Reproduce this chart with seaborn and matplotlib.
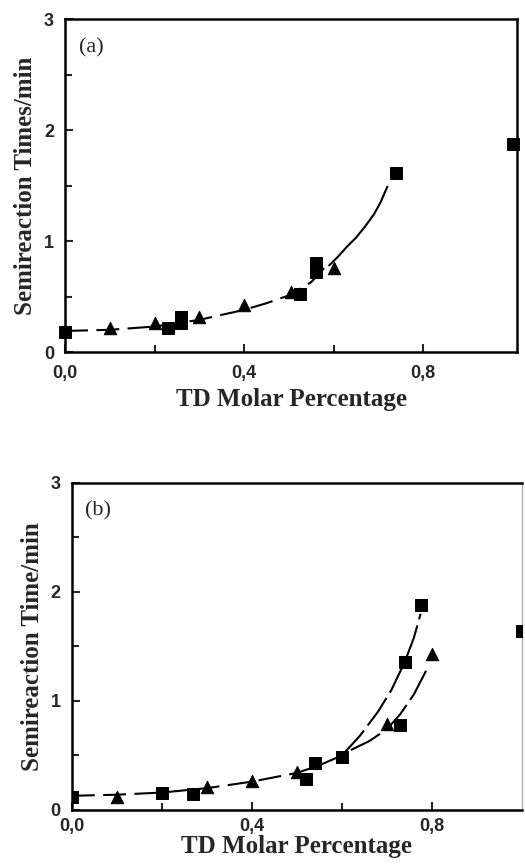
import numpy as np
import matplotlib
matplotlib.use("Agg")
import matplotlib.pyplot as plt
import seaborn as sns
from matplotlib.ticker import MultipleLocator, FixedLocator

# panel (a) data
a_sq_x = [0.0, 0.23, 0.26, 0.26, 0.525, 0.56, 0.56, 0.74, 1.0]
a_sq_y = [0.18, 0.22, 0.26, 0.32, 0.52, 0.72, 0.80, 1.61, 1.87]
a_tr_x = [0.10, 0.20, 0.30, 0.40, 0.505, 0.60]
a_tr_y = [0.22, 0.26, 0.32, 0.42, 0.54, 0.76]
# fitted curve (dashed lower part, solid upper part)
a_fit_x = [0.0, 0.10, 0.20, 0.30, 0.40, 0.45, 0.50, 0.55, 0.58]
a_fit_y = [0.19, 0.20, 0.23, 0.29, 0.38, 0.44, 0.51, 0.63, 0.76]
a_top_x = [0.59, 0.61, 0.63, 0.65, 0.67, 0.69, 0.705, 0.72]
a_top_y = [0.78, 0.86, 0.95, 1.03, 1.13, 1.24, 1.35, 1.49]

# panel (b) data
b_sq_x = [0.0, 0.20, 0.27, 0.52, 0.54, 0.60, 0.73, 0.74, 0.775, 1.0]
b_sq_y = [0.12, 0.16, 0.15, 0.28, 0.43, 0.49, 0.78, 1.36, 1.88, 1.64]
b_tr_x = [0.10, 0.30, 0.40, 0.50, 0.70, 0.80]
b_tr_y = [0.12, 0.21, 0.27, 0.35, 0.79, 1.43]
b_fit_x = [0.0, 0.10, 0.20, 0.30, 0.40, 0.50, 0.55, 0.60]
b_fit_y = [0.13, 0.14, 0.16, 0.20, 0.26, 0.34, 0.41, 0.50]
b_up_x = [0.60, 0.64, 0.68, 0.71, 0.74, 0.76, 0.775]
b_up_y = [0.50, 0.68, 0.90, 1.10, 1.36, 1.58, 1.80]
b_lo_x = [0.62, 0.66, 0.70, 0.73, 0.76, 0.79]
b_lo_y = [0.55, 0.63, 0.74, 0.88, 1.06, 1.30]

sns.set_style("ticks")
plt.rcParams["font.family"] = ["Liberation Sans", "DejaVu Sans"]

fig = plt.figure(figsize=(5.25, 8.66), dpi=100)
ax1 = fig.add_axes([0.124, 0.5935, 0.861, 0.3845])
ax2 = fig.add_axes([0.137, 0.0647, 0.857, 0.3776])

serif = ["Liberation Serif", "DejaVu Serif"]
dash = (0, (11, 4))


def style_ax(ax, xmax, ylabel, tag, tpad, lpad):
    ax.set_xlim(0, xmax)
    ax.set_ylim(0, 3)
    ax.xaxis.set_major_locator(FixedLocator([0.0, 0.4, 0.8]))
    ax.xaxis.set_minor_locator(FixedLocator([0.2, 0.6]))
    ax.yaxis.set_major_locator(MultipleLocator(1))
    ax.yaxis.set_minor_locator(MultipleLocator(0.5))
    ax.set_xticklabels(["0,0", "0,4", "0,8"])
    ax.tick_params(which="both", direction="in", top=False, right=False,
                   labelsize=13, width=1.5, pad=8)
    ax.tick_params(axis="x", pad=tpad)
    ax.tick_params(which="major", length=6)
    ax.tick_params(which="minor", length=5)
    for lab in ax.get_xticklabels() + ax.get_yticklabels():
        lab.set_fontweight("bold")
    for s in ax.spines.values():
        s.set_linewidth(1.8)
        s.set_color("black")
    ax.set_xlabel("TD Molar Percentage", family=serif, fontweight="bold",
                  fontsize=18, labelpad=lpad)
    ax.set_ylabel(ylabel, family=serif, fontweight="bold", fontsize=18,
                  labelpad=5)
    ax.text(0.03, 0.9, tag, transform=ax.transAxes, family=serif, fontsize=16)


# panel (a)
sns.lineplot(x=a_fit_x, y=a_fit_y, sort=False, estimator=None, ax=ax1,
             color="black", lw=1.5, linestyle=dash)
sns.lineplot(x=a_top_x, y=a_top_y, sort=False, estimator=None, ax=ax1,
             color="black", lw=1.5)
sns.scatterplot(x=a_sq_x, y=a_sq_y, marker="s", s=75, color="black",
                edgecolor="black", ax=ax1, clip_on=False, zorder=3)
sns.scatterplot(x=a_tr_x, y=a_tr_y, marker="^", s=80, color="black",
                edgecolor="black", ax=ax1, zorder=3)
style_ax(ax1, 1.01, "Semireaction Times/min", "(a)", 9, 5)

# panel (b)
sns.lineplot(x=b_fit_x, y=b_fit_y, sort=False, estimator=None, ax=ax2,
             color="black", lw=1.5, linestyle=dash)
sns.lineplot(x=b_up_x, y=b_up_y, sort=False, estimator=None, ax=ax2,
             color="black", lw=1.5, linestyle=(0, (16, 3)))
sns.lineplot(x=b_lo_x, y=b_lo_y, sort=False, estimator=None, ax=ax2,
             color="black", lw=1.5, linestyle=(0, (16, 3)))
sns.scatterplot(x=b_sq_x, y=b_sq_y, marker="s", s=75, color="black",
                edgecolor="black", ax=ax2, zorder=3)
sns.scatterplot(x=b_tr_x, y=b_tr_y, marker="^", s=80, color="black",
                edgecolor="black", ax=ax2, zorder=3)
style_ax(ax2, 1.0, "Semireaction Time/min", "(b)", 6, 0)
ax2.spines["right"].set_color("#b0b0b0")
ax2.spines["right"].set_linewidth(1.0)

fig.savefig("out.png", dpi=100)
